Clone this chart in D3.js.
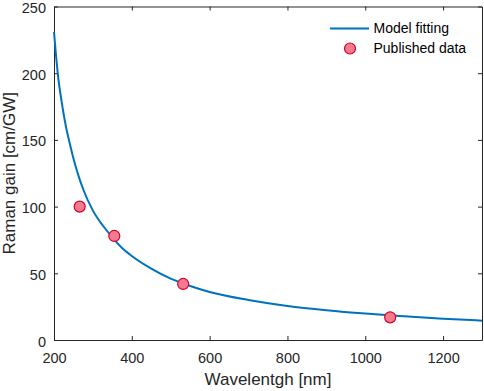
<!DOCTYPE html>
<html>
<head>
<meta charset="utf-8">
<script src="https://cdn.jsdelivr.net/npm/d3@7"></script>
<style>
  html, body { margin: 0; padding: 0; background: #fff; }
  svg { display: block; font-family: "Liberation Sans", Arial, Helvetica, sans-serif; }
</style>
</head>
<body>
<svg id="chart" width="484" height="391"></svg>
<script>
// Model fitting curve (wavelength nm, Raman gain cm/GW)
const fitWavelength = [200, 205, 210, 220, 230, 240, 250, 262, 275, 300, 325, 350, 375, 400, 450, 500, 550, 600, 700, 800, 900, 1000, 1100, 1200, 1300];
const fitGain       = [231, 214, 199, 178, 161, 148, 136, 124, 113, 97, 86, 77, 69, 63, 53.5, 46, 40.5, 36, 30, 25.5, 22.3, 19.8, 17.8, 16, 14.5];
// Published data points
const pubWavelength = [266, 355, 532, 1064];
const pubGain       = [100, 78, 42, 17];
// Axis ticks
const xTicks = [200, 400, 600, 800, 1000, 1200];
const yTicks = [0, 50, 100, 150, 200, 250];
const legendLabels = ["Model fitting", "Published data"];

(function () {
const svg = d3.select("#chart");
const mLeft = 54, mRight = 482, mTop = 6.5, mBottom = 340;
const axisColor = "#262626";

const x = d3.scaleLinear().domain([200, 1300]).range([mLeft, mRight]);
const y = d3.scaleLinear().domain([0, 250]).range([mBottom, mTop]);
const fmt = d3.format("d");

// Axes (ticks inside, box on)
const gx = svg.append("g").attr("transform", `translate(0,${mBottom})`)
  .call(d3.axisBottom(x).tickValues(xTicks).tickFormat(fmt).tickSizeInner(-4).tickSizeOuter(0).tickPadding(13));
const gxTop = svg.append("g").attr("transform", `translate(0,${mTop})`)
  .call(d3.axisTop(x).tickValues(xTicks).tickSizeInner(-4).tickSizeOuter(0).tickFormat(""));
const gy = svg.append("g").attr("transform", `translate(${mLeft},0)`)
  .call(d3.axisLeft(y).tickValues(yTicks).tickFormat(fmt).tickSizeInner(-4).tickSizeOuter(0).tickPadding(8));
const gyRight = svg.append("g").attr("transform", `translate(${mRight},0)`)
  .call(d3.axisRight(y).tickValues(yTicks).tickSizeInner(-4).tickSizeOuter(0).tickFormat(""));

[gx, gxTop, gy, gyRight].forEach(g => {
  g.select(".domain").attr("stroke", axisColor).attr("stroke-width", 1);
  g.selectAll(".tick line").attr("stroke", axisColor).attr("stroke-width", 1);
  g.selectAll(".tick text").attr("fill", axisColor).style("font-size", "14.5px")
    .style("font-family", '"Liberation Sans", Arial, sans-serif');
});
gy.selectAll(".tick text").attr("dy", "0.42em");

// Curve
const fitData = fitWavelength.map((w, i) => ({w, g: fitGain[i]}));
const line = d3.line().x(d => x(d.w)).y(d => y(d.g)).curve(d3.curveMonotoneX);
svg.append("path").datum(fitData)
  .attr("d", line).attr("fill", "none")
  .attr("stroke", "#0072BD").attr("stroke-width", 2);

// Points
const pubData = pubWavelength.map((w, i) => ({w, g: pubGain[i]}));
svg.append("g").selectAll("circle").data(pubData).join("circle")
  .attr("cx", d => x(d.w)).attr("cy", d => y(d.g)).attr("r", 5.5)
  .attr("fill", "#F47A90").attr("stroke", "#D4002A").attr("stroke-width", 1.2);

// Axis labels
svg.append("text").attr("x", (mLeft + mRight) / 2).attr("y", 385)
  .attr("text-anchor", "middle").attr("fill", axisColor)
  .style("font-size", "17px").text("Wavelentgh [nm]");
svg.append("text").attr("transform", `translate(15,${(mTop + mBottom) / 2}) rotate(-90)`)
  .attr("text-anchor", "middle").attr("fill", axisColor)
  .style("font-size", "17px").text("Raman gain [cm/GW]");

// Legend
const lg = svg.append("g");
lg.append("line").attr("x1", 330).attr("x2", 369).attr("y1", 28.5).attr("y2", 28.5)
  .attr("stroke", "#0072BD").attr("stroke-width", 2);
lg.append("circle").attr("cx", 350).attr("cy", 48.5).attr("r", 5.5)
  .attr("fill", "#F47A90").attr("stroke", "#D4002A").attr("stroke-width", 1.2);
lg.selectAll("text").data(legendLabels).join("text")
  .attr("x", 373.5).attr("y", (d, i) => 28.5 + i * 20)
  .attr("dy", "0.35em").attr("fill", "#000")
  .style("font-size", "14px").text(d => d);
})();
</script>
</body>
</html>
